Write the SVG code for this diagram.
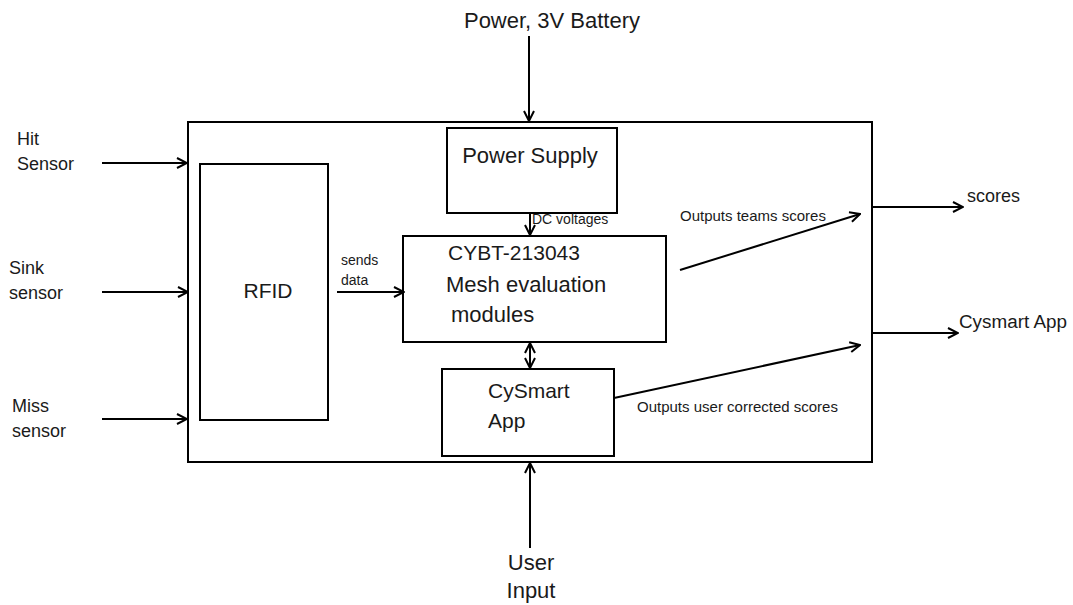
<svg xmlns="http://www.w3.org/2000/svg" width="1073" height="605" viewBox="0 0 1073 605">
<style>
.box{fill:none;stroke:#000;stroke-width:2}
.ln{fill:none;stroke:#000;stroke-width:2}
.t{font-family:"Liberation Sans",Arial,sans-serif;fill:#1a1a1a}
.big{font-size:21px}
.xl{font-size:22px}
.mid{font-size:18px}
.sm{font-size:14px}
.sm2{font-size:15px}
</style>
<defs>
<marker id="ah" viewBox="0 0 12 12" refX="11" refY="6" markerWidth="12" markerHeight="12" markerUnits="userSpaceOnUse" orient="auto-start-reverse">
<path d="M1,1 L11,6 L1,11" fill="none" stroke="#000" stroke-width="2"/>
</marker>
</defs>
<rect width="1073" height="605" fill="#fff"/>
<g id="system"><rect class="box" x="188" y="122" width="684" height="340"/></g>
<g id="rfid"><rect class="box" x="200" y="164" width="128" height="256"/><text class="t big" x="268" y="298" text-anchor="middle">RFID</text></g>
<g id="power-supply"><rect class="box" x="447" y="128" width="170" height="85"/><text class="t xl" x="530" y="163" text-anchor="middle">Power Supply</text></g>
<g id="cybt"><rect class="box" x="403" y="236" width="263" height="106"/>
<text class="t big" x="448" y="260">CYBT-213043</text>
<text class="t xl" x="446" y="292">Mesh evaluation</text>
<text class="t xl" x="451" y="322">modules</text></g>
<g id="cysmart"><rect class="box" x="442" y="369" width="172" height="87"/>
<text class="t big" x="488" y="398">CySmart</text>
<text class="t big" x="488" y="428">App</text></g>
<g id="labels">
<text class="t xl" x="552" y="28" text-anchor="middle">Power, 3V Battery</text>
<text class="t mid" x="17" y="145">Hit</text><text class="t mid" x="17" y="170">Sensor</text>
<text class="t mid" x="9" y="274">Sink</text><text class="t mid" x="9" y="299">sensor</text>
<text class="t mid" x="12" y="412">Miss</text><text class="t mid" x="12" y="437">sensor</text>
<text class="t xl" x="531" y="570" text-anchor="middle">User</text>
<text class="t xl" x="531" y="598" text-anchor="middle">Input</text>
<text class="t mid" x="967" y="202">scores</text>
<text class="t mid" x="959" y="328" textLength="108" lengthAdjust="spacingAndGlyphs">Cysmart App</text>
</g>
<g id="connectors">
<line class="ln" x1="529" y1="36" x2="529" y2="121" marker-end="url(#ah)"/>
<line class="ln" x1="530" y1="213" x2="530" y2="235" marker-end="url(#ah)"/>
<text class="t sm" x="532" y="224">DC voltages</text>
<line class="ln" x1="102" y1="163" x2="187" y2="163" marker-end="url(#ah)"/>
<line class="ln" x1="102" y1="292" x2="188" y2="292" marker-end="url(#ah)"/>
<line class="ln" x1="102" y1="419" x2="187" y2="419" marker-end="url(#ah)"/>
<line class="ln" x1="337" y1="292" x2="404" y2="292" marker-end="url(#ah)"/>
<text class="t sm" x="341" y="265">sends</text><text class="t sm" x="341" y="285">data</text>
<line class="ln" x1="530" y1="343" x2="530" y2="368" marker-start="url(#ah)" marker-end="url(#ah)"/>
<line class="ln" x1="530" y1="548" x2="530" y2="463" marker-end="url(#ah)"/>
<line class="ln" x1="680" y1="270" x2="860" y2="214" marker-end="url(#ah)"/>
<text class="t sm2" x="680" y="221">Outputs teams scores</text>
<line class="ln" x1="614" y1="398" x2="860" y2="345" marker-end="url(#ah)"/>
<text class="t sm2" x="637" y="412">Outputs user corrected scores</text>
<line class="ln" x1="872" y1="207" x2="963" y2="207" marker-end="url(#ah)"/>
<line class="ln" x1="872" y1="333" x2="958" y2="333" marker-end="url(#ah)"/>
</g>
</svg>
